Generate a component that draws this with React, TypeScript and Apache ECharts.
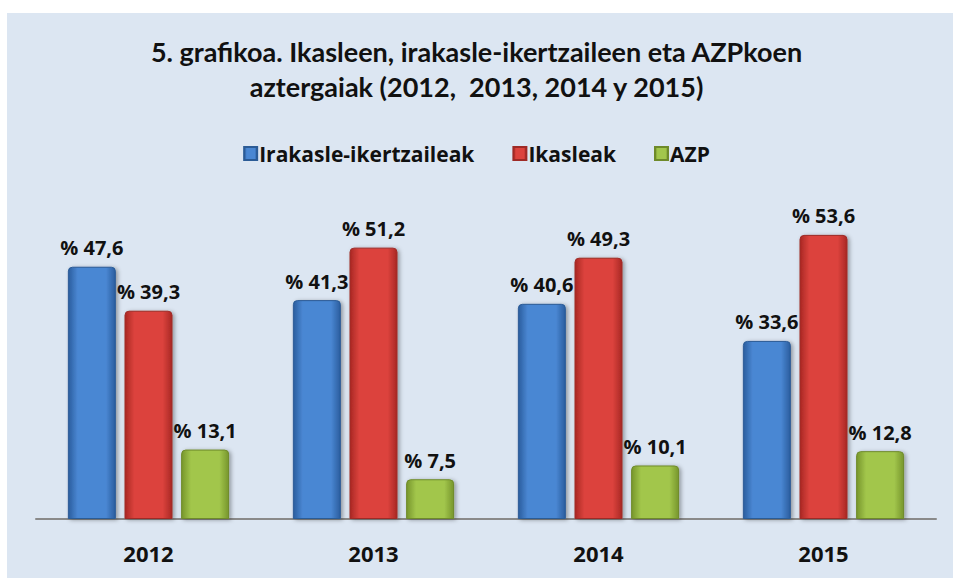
import React, { useEffect, useRef } from "react";
import * as echarts from "echarts";

const years = ["2012", "2013", "2014", "2015"];
const irakasleIkertzaileak = [47.6, 41.3, 40.6, 33.6];
const ikasleak = [39.3, 51.2, 49.3, 53.6];
const azp = [13.1, 7.5, 10.1, 12.8];
const seriesNames = ["Irakasle-ikertzaileak", "Ikasleak", "AZP"];
const titleLines = [
  "5. grafikoa. Ikasleen, irakasle-ikertzaileen eta AZPkoen",
  "aztergaiak (2012,  2013, 2014 y 2015)",
];

const TITLE_FONT = "Lato, 'Noto Sans', sans-serif";
const FONT = "'Open Sans', 'DejaVu Sans', sans-serif";

function grad(edge: string, mid: string) {
  return new echarts.graphic.LinearGradient(0, 0, 1, 0, [
    { offset: 0, color: edge },
    { offset: 0.2, color: mid },
    { offset: 0.8, color: mid },
    { offset: 1, color: edge },
  ]);
}

export default function App() {
  const ref = useRef<HTMLDivElement>(null);
  useEffect(() => {
    if (!ref.current) return;
    const chart = echarts.init(ref.current, undefined, { renderer: "svg" });
    const label = {
      show: true,
      position: "top" as const,
      distance: 9,
      fontFamily: FONT,
      fontWeight: "bold" as const,
      fontSize: 20,
      color: "#111",
      formatter: (p: any) => "% " + String(p.value.toFixed(1)).replace(".", ","),
    };
    const mk = (name: string, data: number[], edge: string, mid: string, border: string) => ({
      name,
      type: "bar" as const,
      data,
      barWidth: 48,
      barGap: "18%",
      label,
      itemStyle: {
        color: grad(edge, mid),
        borderColor: border,
        borderWidth: 1,
        borderRadius: [4, 4, 0, 0],
        shadowColor: "rgba(0,0,0,0.35)",
        shadowBlur: 4,
        shadowOffsetX: 2,
        shadowOffsetY: 1,
      },
    });
    chart.setOption({
      animation: false,
      backgroundColor: "#ffffff",
      color: ["#3f7bc8", "#d63c36", "#9bbf45"],
      graphic: [
        {
          type: "rect",
          z: -10,
          shape: { x: 7, y: 13, width: 946, height: 565 },
          style: { fill: "#dce6f2" },
        },
        {
          type: "text",
          left: "center",
          top: 34,
          style: {
            text: titleLines.join("\n"),
            font: `bold 27px ${TITLE_FONT}`,
            fill: "#111",
            textAlign: "center",
            lineHeight: 35,
          },
        },
      ],
      legend: {
        top: 138,
        left: "center",
        itemWidth: 13,
        itemHeight: 13,
        itemGap: 38,
        icon: "rect",
        data: seriesNames,
        textStyle: { fontFamily: FONT, fontWeight: "bold", fontSize: 21, color: "#111", padding: [0, 0, 0, -3] },
      },
      grid: { left: 36, right: 17, top: 201, bottom: 59 },
      xAxis: {
        type: "category",
        data: years,
        axisTick: { show: false },
        axisLine: { lineStyle: { color: "#8a8a8a", width: 2 } },
        axisLabel: {
          margin: 23,
          fontFamily: FONT,
          fontWeight: "bold",
          fontSize: 22,
          color: "#111",
        },
      },
      yAxis: { type: "value", min: 0, max: 60, show: false, splitLine: { show: false } },
      series: [
        mk(seriesNames[0], irakasleIkertzaileak, "#2a5d9e", "#4a87d3", "#2b5b96"),
        mk(seriesNames[1], ikasleak, "#a92824", "#dc433d", "#9e2a26"),
        mk(seriesNames[2], azp, "#77962c", "#a2c64c", "#6e8a2a"),
      ],
    });
    return () => chart.dispose();
  }, []);
  return (
    <div
      ref={ref}
      style={{ position: "fixed", left: 0, top: 0, width: 953, height: 578 }}
    />
  );
}
